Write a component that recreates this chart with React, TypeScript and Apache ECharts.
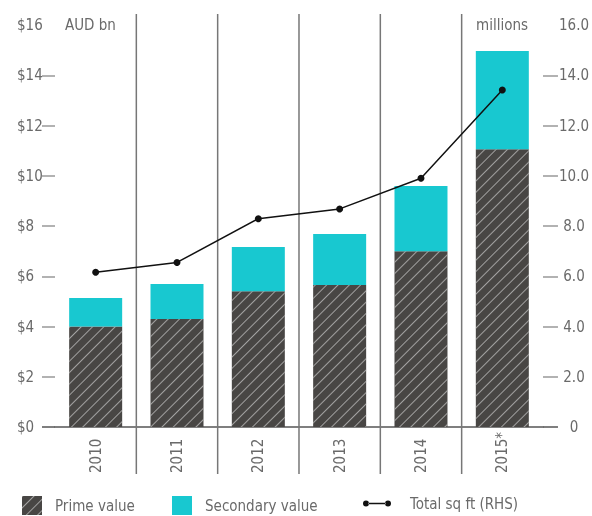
import React, { useEffect, useRef } from "react";
import * as echarts from "echarts";

const years = ["2010", "2011", "2012", "2013", "2014", "2015*"];
const primeValue = [4.0, 4.3, 5.4, 5.65, 7.0, 11.05];
const secondaryValue = [1.13, 1.39, 1.76, 2.03, 2.59, 3.92];
const totalSqFt = [6.16, 6.55, 8.29, 8.68, 9.9, 13.41];
const separatorIdx = [1, 2, 3, 4, 5];
const tickValues = [2, 4, 6, 8, 10, 12, 14];

const FONT = "'DejaVu Sans Condensed', 'Liberation Sans', sans-serif";
const FS = 15;
const TXT = "#6a6a6a";
const DARK = "#484644";
const CYAN = "#18c8d0";

export default function App() {
  const ref = useRef<HTMLDivElement>(null);
  useEffect(() => {
    if (!ref.current) return;
    const chart = echarts.init(ref.current, null, { renderer: "svg" });
    const lineIcon =
      "path://M0,4a3,3 0 1,0 6,0a3,3 0 1,0 -6,0Z M22,4a3,3 0 1,0 6,0a3,3 0 1,0 -6,0Z M5.5,3.3H22.5V4.7H5.5Z";
    const legendBase = {
      top: 491,
      itemGap: 0,
      textStyle: { fontFamily: FONT, fontSize: FS, color: TXT, padding: [0, 0, 0, 8] },
      selectedMode: false,
    };
    chart.setOption({
      animation: false,
      textStyle: { fontFamily: FONT },
      grid: { left: 55, right: 46, top: 25, bottom: 89, containLabel: false },
      legend: [
        { ...legendBase, left: 17, icon: "rect", data: ["Prime value"], itemWidth: 20, itemHeight: 19 },
        { ...legendBase, left: 167, icon: "rect", data: ["Secondary value"], itemWidth: 20, itemHeight: 19 },
        {
          ...legendBase,
          left: 358,
          top: 491,
          data: [
            {
              name: "Total sq ft (RHS)",
              icon: lineIcon,
              itemStyle: { color: "#111", borderWidth: 0 },
            },
          ],
          itemWidth: 28,
          itemHeight: 8,
          textStyle: { ...legendBase.textStyle, padding: [0, 0, 0, 14] },
        },
      ],
      xAxis: {
        type: "category",
        data: years,
        boundaryGap: true,
        axisLine: { show: true, lineStyle: { color: "#555", width: 1.5 } },
        axisTick: { show: false },
        splitLine: { show: false },
        axisLabel: {
          rotate: 90,
          align: "left",
          verticalAlign: "middle",
          margin: 46,
          fontFamily: FONT,
          fontSize: FS,
          color: TXT,
        },
      },
      yAxis: [
        {
          type: "value",
          position: "left",
          min: 0,
          max: 16,
          interval: 2,
          name: "AUD bn",
          nameLocation: "end",
          nameGap: 0,
          nameTextStyle: {
            align: "left",
            verticalAlign: "middle",
            padding: [0, 0, 0, 10],
            fontFamily: FONT,
            fontSize: FS,
            color: TXT,
          },
          axisLine: { show: false },
          axisTick: { show: true, length: 13, customValues: tickValues, lineStyle: { color: "#999", width: 1.5 } },
          splitLine: { show: false },
          axisLabel: {
            align: "left",
            margin: 38,
            fontFamily: FONT,
            fontSize: FS,
            color: TXT,
            formatter: (v: number) => "$" + v,
          },
        },
        {
          type: "value",
          position: "right",
          min: 0,
          max: 16,
          interval: 2,
          name: "millions",
          nameLocation: "end",
          nameGap: 0,
          nameTextStyle: {
            align: "right",
            verticalAlign: "middle",
            padding: [0, 15, 0, 0],
            fontFamily: FONT,
            fontSize: FS,
            color: TXT,
          },
          axisLine: { show: false },
          axisTick: { show: true, length: 15, customValues: tickValues, lineStyle: { color: "#999", width: 1.5 } },
          splitLine: { show: false },
          axisLabel: {
            align: "center",
            margin: 31,
            fontFamily: FONT,
            fontSize: FS,
            color: TXT,
            formatter: (v: number) => (v === 0 ? "0" : v.toFixed(1)),
          },
        },
        {
          type: "value",
          position: "left",
          min: 0,
          max: 16,
          interval: 2,
          axisLine: { show: false },
          axisLabel: { show: false },
          splitLine: { show: false },
          axisTick: { show: true, length: 13, customValues: [0], lineStyle: { color: "#555", width: 1.5 } },
        },
        {
          type: "value",
          position: "right",
          min: 0,
          max: 16,
          interval: 2,
          axisLine: { show: false },
          axisLabel: { show: false },
          splitLine: { show: false },
          axisTick: { show: true, length: 15, customValues: [0], lineStyle: { color: "#555", width: 1.5 } },
        },
      ],
      series: [
        {
          type: "custom",
          silent: true,
          clip: false,
          z: 1,
          data: separatorIdx.map((i) => [i]),
          encode: { x: 0 },
          renderItem: (params: any, api: any) => {
            const idx = api.value(0);
            const base = api.coord([idx, 0]);
            const top = api.coord([idx, 16]);
            const w = api.size([1, 0])[0];
            const x = base[0] - w / 2;
            return {
              type: "line",
              shape: { x1: x, y1: top[1] - 11, x2: x, y2: base[1] + 47 },
              style: { stroke: "#777", lineWidth: 1.5 },
            };
          },
        },
        {
          name: "Prime value",
          type: "bar",
          stack: "v",
          barWidth: 53,
          z: 2,
          itemStyle: {
            color: DARK,
            decal: {
              symbol: "rect",
              symbolSize: 1,
              color: "rgba(200,200,200,0.7)",
              dashArrayX: [1, 0],
              dashArrayY: [1, 6.5],
              rotation: -Math.PI / 4,
            },
          },
          data: primeValue,
        },
        {
          name: "Secondary value",
          type: "bar",
          stack: "v",
          barWidth: 53,
          z: 2,
          itemStyle: { color: CYAN },
          data: secondaryValue,
        },
        {
          name: "Total sq ft (RHS)",
          type: "line",
          yAxisIndex: 1,
          z: 5,
          symbol: "circle",
          symbolSize: 7,
          itemStyle: { color: "#111" },
          lineStyle: { color: "#111", width: 1.5 },
          data: totalSqFt,
        },
      ],
    });
    return () => chart.dispose();
  }, []);
  return (
    <div
      ref={ref}
      style={{ position: "fixed", left: 0, top: 0, width: 592, height: 516 }}
    />
  );
}
